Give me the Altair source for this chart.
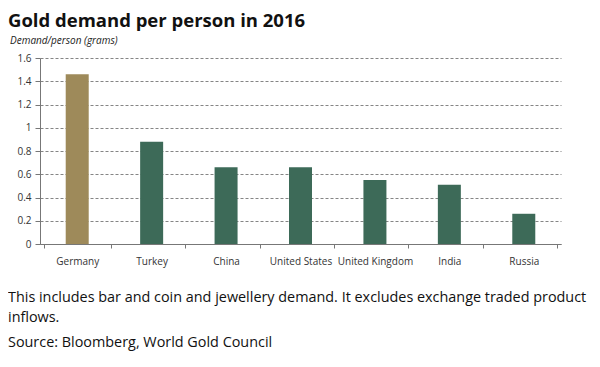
import altair as alt
import pandas as pd

countries = ["Germany", "Turkey", "China", "United States", "United Kingdom", "India", "Russia"]
values = [1.46, 0.88, 0.66, 0.66, 0.55, 0.51, 0.26]
bar_colors = ["#9E8A5A", "#3D6A58", "#3D6A58", "#3D6A58", "#3D6A58", "#3D6A58", "#3D6A58"]
y_ticks = [0, 0.2, 0.4, 0.6, 0.8, 1.0, 1.2, 1.4, 1.6]

title_text = "Gold demand per person in 2016"
subtitle_text = "Demand/person (grams)"
caption_lines = [
    "This includes bar and coin and jewellery demand. It excludes exchange traded product",
    "inflows.",
]
source_text = "Source: Bloomberg, World Gold Council"

df = pd.DataFrame({"country": countries, "value": values})

FONT = "Open Sans"

bars = alt.Chart(df).mark_bar(size=23).encode(
    x=alt.X(
        "country:N",
        sort=countries,
        title=None,
        axis=alt.Axis(
            labelAngle=0,
            labelFont=FONT,
            labelFontSize=10,
            labelColor="#333333",
            labelPadding=8,
            tickBand="extent",
            tickSize=4,
            tickColor="#777777",
            domainColor="#777777",
            grid=False,
        ),
    ),
    y=alt.Y(
        "value:Q",
        title=None,
        scale=alt.Scale(domain=[0, 1.6], nice=False),
        axis=alt.Axis(
            values=y_ticks,
            format="~g",
            labelFont=FONT,
            labelFontSize=10,
            labelColor="#333333",
            labelPadding=4,
            tickSize=5,
            tickColor="#777777",
            domainColor="#777777",
            grid=True,
            gridDash=[3, 2],
            gridColor="#666666",
            gridWidth=0.8,
        ),
    ),
    color=alt.Color(
        "country:N",
        scale=alt.Scale(domain=countries, range=bar_colors),
        legend=None,
    ),
)

def txt(text, x, y, size, weight="normal", style="normal", color="#111111"):
    return alt.Chart(pd.DataFrame({"t": [text]})).mark_text(
        align="left",
        baseline="alphabetic",
        font=FONT,
        fontSize=size,
        fontWeight=weight,
        fontStyle=style,
        color=color,
    ).encode(text="t:N", x=alt.value(x), y=alt.value(y))

layers = [
    bars,
    txt(title_text, -32, -31, 18.5, weight="bold"),
    txt(subtitle_text, -30, -14, 10, style="italic", color="#222222"),
    txt(caption_lines[0], -32, 244, 14.4),
    txt(caption_lines[1], -32, 264, 14.4),
    txt(source_text, -32, 289, 14.4),
]

chart = alt.layer(*layers).properties(
    width=521,
    height=186,
    padding={"left": 32, "top": 50, "right": 30, "bottom": 110},
    autosize=alt.AutoSizeParams(type="none"),
    background="white",
).configure_view(stroke=None)

chart.save("out.html", embed_options={"renderer": "svg", "actions": False})
